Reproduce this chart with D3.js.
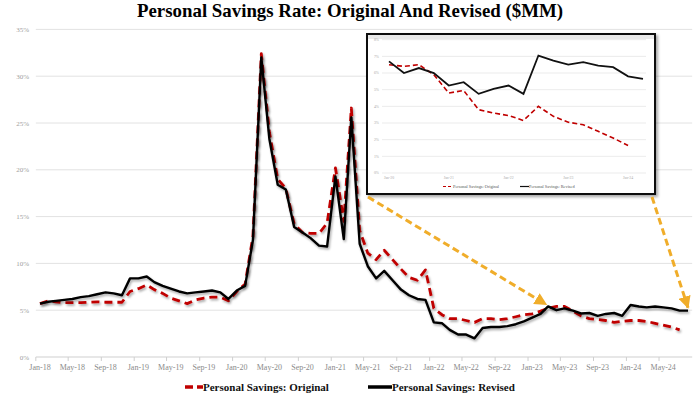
<!DOCTYPE html>
<html>
<head>
<meta charset="utf-8">
<script src="https://cdn.jsdelivr.net/npm/d3@7"></script>
<style>
  body { margin: 0; background: #fff; }
  svg { display: block; font-family: "Liberation Serif", "Times New Roman", serif; }
</style>
</head>
<body>
<div id="chart"></div>
<script>
// monthly, Jan-18 .. Aug-24
const months = d3.timeMonth.range(new Date(2018, 0, 1), new Date(2024, 8, 1));

const original = [
  5.7, 6.0, 5.9, 5.8, 5.8, 5.8, 5.85, 5.9, 5.85, 5.85, 5.85, 7.0,   // 2018
  7.3, 7.7, 7.2, 6.8, 6.3, 6.0, 5.7, 6.1, 6.3, 6.4, 6.4, 6.0,       // 2019
  7.0, 7.8, 12.9, 32.4, 24.0, 19.0, 18.0, 14.2, 13.3, 13.2, 13.2, 14.3, // 2020
  20.2, 14.5, 26.6, 13.5, 11.1, 10.4, 11.4, 10.4, 9.4, 8.5, 8.2, 9.3,   // 2021
  5.2, 4.5, 4.1, 4.1, 3.9, 3.7, 4.1, 4.1, 4.0, 4.1, 4.3, 4.5,       // 2022
  4.6, 4.9, 5.2, 5.4, 5.4, 4.9, 4.4, 4.1, 4.0, 3.9, 3.7, 3.8,       // 2023
  3.9, 3.9, 3.8, 3.6, 3.4, 3.2, 2.9                                 // 2024
];

const revised = [
  5.7, 5.9, 6.0, 6.1, 6.2, 6.4, 6.5, 6.7, 6.9, 6.8, 6.6, 8.4,       // 2018
  8.4, 8.6, 8.0, 7.6, 7.3, 7.0, 6.8, 6.9, 7.0, 7.1, 6.9, 6.2,       // 2019
  7.1, 7.6, 12.5, 32.0, 23.3, 18.4, 17.9, 13.9, 13.3, 12.7, 11.9, 11.8, // 2020
  19.3, 12.6, 25.6, 12.1, 9.7, 8.4, 9.2, 8.2, 7.2, 6.6, 6.2, 6.1,   // 2021
  3.7, 3.6, 2.9, 2.4, 2.4, 2.0, 3.1, 3.2, 3.2, 3.3, 3.5, 3.8,       // 2022
  4.2, 4.6, 5.4, 5.0, 5.2, 4.95, 4.65, 4.7, 4.4, 4.6, 4.7, 4.4,     // 2023
  5.55, 5.4, 5.3, 5.4, 5.3, 5.2, 4.95, 4.95                         // 2024
];

const xTickLabels = ["Jan-18", "May-18", "Sep-18", "Jan-19", "May-19", "Sep-19", "Jan-20", "May-20",
  "Sep-20", "Jan-21", "May-21", "Sep-21", "Jan-22", "May-22", "Sep-22", "Jan-23", "May-23",
  "Sep-23", "Jan-24", "May-24"];
const yTicks = [0, 5, 10, 15, 20, 25, 30, 35];

// inset (zoomed panel)
const insetOriginal = [6.5, 6.4, 6.5, 5.9, 4.8, 4.95, 3.8, 3.6, 3.45, 3.15, 4.0, 3.4, 3.05, 2.9, 2.5, 2.1, 1.65];
const insetRevised = [6.7, 6.0, 6.3, 6.0, 5.25, 5.45, 4.75, 5.05, 5.25, 4.75, 7.05, 6.75, 6.5, 6.65, 6.45, 6.35, 5.8, 5.65];
const insetTickLabels = ["Jan-20", "Jan-21", "Jan-22", "Jan-23", "Jan-24"];
const insetYTicks = [0, 1, 2, 3, 4, 5, 6, 7, 8];

const RED = "#c00000";
const GOLD = "#f0ad2a";

render(d3.select("#chart"));

function render(container) {
    const w = 700, h = 394;
    const margin = { top: 29.4, right: 12, bottom: 37, left: 40 };

    const svg = container.append("svg")
        .attr("width", w)
        .attr("height", h);

    const defs = svg.append("defs");
    const sh = defs.append("filter").attr("id", "shadow")
        .attr("x", "-10%").attr("y", "-10%").attr("width", "130%").attr("height", "130%");
    sh.append("feDropShadow").attr("dx", 1.2).attr("dy", 1.8).attr("stdDeviation", 1)
        .attr("flood-color", "#000").attr("flood-opacity", 0.35);

    const boxSh = defs.append("filter").attr("id", "boxshadow")
        .attr("x", "-5%").attr("y", "-5%").attr("width", "115%").attr("height", "115%");
    boxSh.append("feDropShadow").attr("dx", 2).attr("dy", 2).attr("stdDeviation", 1.5)
        .attr("flood-color", "#000").attr("flood-opacity", 0.35);

    defs.append("marker")
        .attr("id", "arrow")
        .attr("viewBox", "0 0 10 10")
        .attr("refX", 9).attr("refY", 5)
        .attr("markerWidth", 4.2).attr("markerHeight", 4.2)
        .attr("markerUnits", "strokeWidth")
        .attr("orient", "auto")
        .append("path")
        .attr("d", "M0,0 L10,5 L0,10 Z")
        .attr("fill", GOLD);

    const x = d3.scaleTime()
        .domain([months[0], months[months.length - 1]])
        .range([40, 688]);

    const y = d3.scaleLinear()
        .domain([0, 35])
        .range([357, margin.top]);

    const halfStep = (x(months[1]) - x(months[0])) / 2;
    const gx0 = x(months[0]) - halfStep, gx1 = x(months[months.length - 1]) + halfStep;

    // title
    svg.append("text")
        .attr("x", w / 2)
        .attr("y", 17)
        .attr("text-anchor", "middle")
        .attr("font-size", 19)
        .attr("font-weight", "bold")
        .attr("textLength", 426)
        .attr("lengthAdjust", "spacingAndGlyphs")
        .attr("fill", "#000")
        .text("Personal Savings Rate: Original And Revised ($MM)");

    // grid + y labels
    svg.append("g")
        .selectAll("line")
        .data(yTicks)
        .join("line")
        .attr("x1", gx0).attr("x2", gx1)
        .attr("y1", d => y(d)).attr("y2", d => y(d))
        .attr("stroke", d => d === 0 ? "#cfcfcf" : "#e2e2e2")
        .attr("stroke-width", 1);

    svg.append("g")
        .selectAll("text")
        .data(yTicks)
        .join("text")
        .attr("x", 29)
        .attr("y", d => y(d) + 2.5)
        .attr("text-anchor", "end")
        .attr("font-size", 7)
        .attr("fill", "#a0a0a0")
        .text(d => d + "%");

    // x axis
    const parseLabel = d3.timeParse("%b-%y");
    const tickDates = xTickLabels.map(parseLabel);

    svg.append("g")
        .selectAll("line")
        .data(tickDates)
        .join("line")
        .attr("x1", d => x(d) - halfStep).attr("x2", d => x(d) - halfStep)
        .attr("y1", 357).attr("y2", 361)
        .attr("stroke", "#cfcfcf");

    svg.append("g")
        .selectAll("text")
        .data(xTickLabels)
        .join("text")
        .attr("x", (d, i) => x(tickDates[i]))
        .attr("y", 370)
        .attr("text-anchor", "middle")
        .attr("font-size", 8)
        .attr("fill", "#8a8a8a")
        .text(d => d);

    // series
    const line = d3.line()
        .x(d => x(d[0]))
        .y(d => y(d[1]));

    svg.append("path")
        .datum(original.map((v, i) => [months[i], v]))
        .attr("fill", "none")
        .attr("stroke", RED)
        .attr("stroke-width", 2.8)
        .attr("stroke-dasharray", "8 5")
        .attr("stroke-linejoin", "round")
        .attr("filter", "url(#shadow)")
        .attr("d", line);

    svg.append("path")
        .datum(revised.map((v, i) => [months[i], v]))
        .attr("fill", "none")
        .attr("stroke", "#000")
        .attr("stroke-width", 2.4)
        .attr("stroke-linejoin", "round")
        .attr("filter", "url(#shadow)")
        .attr("d", line);

    // legend
    const legY = 387;
    const leg = svg.append("g").attr("font-size", 11).attr("font-weight", "bold").attr("fill", "#111");
    leg.append("line")
        .attr("x1", 185).attr("x2", 203).attr("y1", legY).attr("y2", legY)
        .attr("stroke", RED).attr("stroke-width", 3.5).attr("stroke-dasharray", "8 4");
    leg.append("text").attr("x", 203).attr("y", legY + 4).text("Personal Savings: Original");
    leg.append("line")
        .attr("x1", 368).attr("x2", 392).attr("y1", legY).attr("y2", legY)
        .attr("stroke", "#000").attr("stroke-width", 3.5);
    leg.append("text").attr("x", 392).attr("y", legY + 4).text("Personal Savings: Revised");

    // inset panel
    const box = { x: 367, y: 34, w: 288, h: 160 };
    renderInset(svg, box);

    // arrows from inset corners to the revision points
    const iMar23 = 62, iLast = revised.length - 1;
    svg.append("line")
        .attr("x1", box.x + 1).attr("y1", box.y + box.h + 3)
        .attr("x2", x(months[iMar23]) - 2).attr("y2", y(revised[iMar23]) - 2)
        .attr("stroke", GOLD).attr("stroke-width", 3)
        .attr("stroke-dasharray", "7 4")
        .attr("marker-end", "url(#arrow)");

    svg.append("line")
        .attr("x1", box.x + box.w - 3).attr("y1", box.y + box.h + 3)
        .attr("x2", x(months[iLast])).attr("y2", y(revised[iLast]) - 3)
        .attr("stroke", GOLD).attr("stroke-width", 3)
        .attr("stroke-dasharray", "7 4")
        .attr("marker-end", "url(#arrow)");
}

function renderInset(svg, box) {
    const g = svg.append("g");

    g.append("rect")
        .attr("x", box.x).attr("y", box.y)
        .attr("width", box.w).attr("height", box.h)
        .attr("fill", "#fff")
        .attr("stroke", "#111")
        .attr("stroke-width", 2)
        .attr("filter", "url(#boxshadow)");

    g.append("rect")
        .attr("x", box.x + 1).attr("y", box.y + 1)
        .attr("width", box.w - 2).attr("height", 4)
        .attr("fill", "#e9e9e9");

    const ix = d3.scalePoint()
        .domain(d3.range(insetRevised.length))
        .range([389, 643]);

    const iy = d3.scaleLinear()
        .domain([0, 8])
        .range([173, 39.7]);

    g.append("g")
        .selectAll("line")
        .data(insetYTicks)
        .join("line")
        .attr("x1", 382).attr("x2", 646)
        .attr("y1", d => iy(d)).attr("y2", d => iy(d))
        .attr("stroke", "#e6e6e6").attr("stroke-width", 0.8);

    g.append("g")
        .selectAll("text")
        .data(insetYTicks)
        .join("text")
        .attr("x", 379)
        .attr("y", d => iy(d) + 1.3)
        .attr("text-anchor", "end")
        .attr("font-size", 3.8)
        .attr("fill", "#aaa")
        .text(d => d + "%");

    g.append("g")
        .selectAll("text")
        .data(insetTickLabels)
        .join("text")
        .attr("x", (d, i) => ix(i * 4))
        .attr("y", 179)
        .attr("text-anchor", "middle")
        .attr("font-size", 3.8)
        .attr("fill", "#aaa")
        .text(d => d);

    const line = d3.line()
        .x((d, i) => ix(i))
        .y(d => iy(d));

    g.append("path")
        .datum(insetOriginal)
        .attr("fill", "none")
        .attr("stroke", RED)
        .attr("stroke-width", 1.6)
        .attr("stroke-dasharray", "5 3")
        .attr("d", line);

    g.append("path")
        .datum(insetRevised)
        .attr("fill", "none")
        .attr("stroke", "#111")
        .attr("stroke-width", 1.8)
        .attr("d", line);

    const ly = 186.5;
    const leg = g.append("g").attr("font-size", 4.3).attr("fill", "#555");
    leg.append("line").attr("x1", 443).attr("x2", 452).attr("y1", ly).attr("y2", ly)
        .attr("stroke", RED).attr("stroke-width", 1.2).attr("stroke-dasharray", "3 2");
    leg.append("text").attr("x", 453).attr("y", ly + 1.4).text("Personal Savings: Original");
    leg.append("line").attr("x1", 520).attr("x2", 529).attr("y1", ly).attr("y2", ly)
        .attr("stroke", "#111").attr("stroke-width", 1.2);
    leg.append("text").attr("x", 529).attr("y", ly + 1.4).text("Personal Savings: Revised");
}
</script>
</body>
</html>
